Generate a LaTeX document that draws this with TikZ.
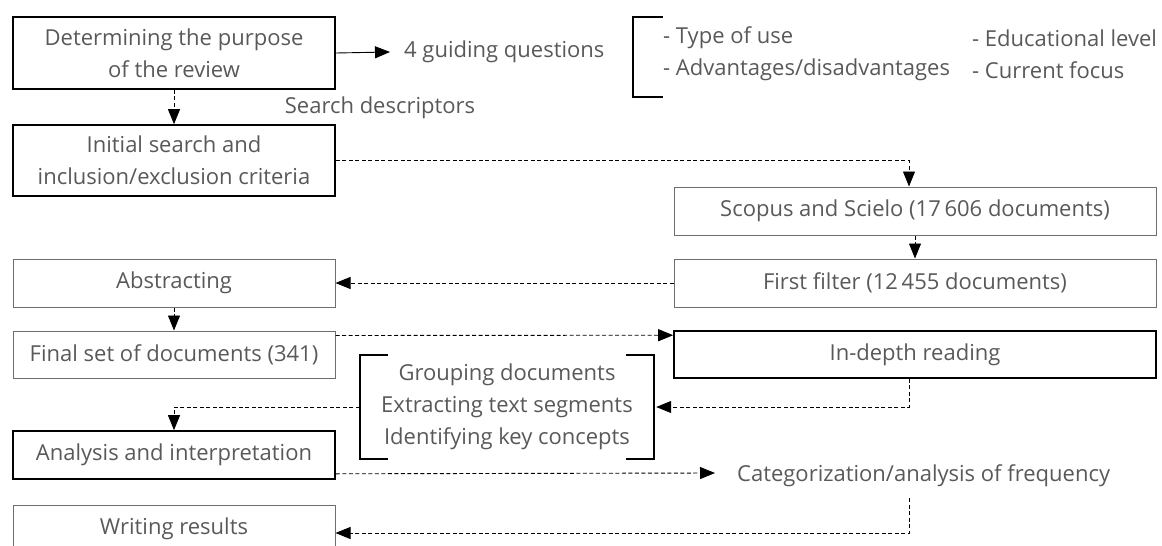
\documentclass[tikz,border=0pt]{standalone}
\usepackage{fontspec}
\setmainfont{Open Sans}
\usetikzlibrary{arrows.meta}
\definecolor{txt}{HTML}{595959}
\definecolor{thinline}{HTML}{6E6E6E}
\tikzset{
  every node/.style={text=txt, font=\fontsize{22}{32}\selectfont},
  mainbox/.style={draw=black, line width=1.6pt, align=center, inner sep=0pt, minimum width=322pt},
  plainbox/.style={draw=thinline, line width=1pt, align=center, inner sep=0pt, minimum width=322pt},
  widebox/.style={minimum width=482pt},
  label/.style={inner sep=0pt, anchor=west},
  flow/.style={-{Triangle[length=15pt,width=12pt]}, line width=0.9pt, dash pattern=on 4pt off 2.5pt},
  solidflow/.style={-{Triangle[length=15pt,width=12pt]}, line width=0.9pt},
  bracket/.style={draw=black, line width=1.6pt},
}
\begin{document}
\begin{tikzpicture}[x=1pt, y=-1pt]
\useasboundingbox (0,0) rectangle (1162,546);
\clip (0,0) rectangle (1162,546);

% left column
\node[mainbox, minimum height=72pt] (b1) at (174,53) {Determining the purpose\\of the review};
\node[mainbox, minimum height=71pt] (b2) at (174,160.5) {Initial search and\\inclusion/exclusion criteria};
\node[plainbox, minimum height=48pt] (abs) at (174,283) {Abstracting};
\node[plainbox, minimum height=47pt] (fin) at (174,354.5) {Final set of documents (341)};
\node[mainbox, minimum height=48pt] (ana) at (174,455) {Analysis and interpretation};
\node[plainbox, minimum height=48pt] (wri) at (174,529) {Writing results};

% right column
\node[plainbox, widebox, minimum height=48pt] (sco) at (915,211) {Scopus and Scielo (17\,606 documents)};
\node[plainbox, widebox, minimum height=48pt] (fil) at (915,283) {First filter (12\,455 documents)};
\node[mainbox, widebox, minimum height=47pt] (ind) at (915,354.5) {In-depth reading};

% guiding questions
\node[label] (gq) at (404,52) {4 guiding questions};
\node[label] (q1) at (663,38) {- Type of use};
\node[label] (q2) at (663,70) {- Advantages/disadvantages};
\node[label] (q3) at (972,38) {- Educational level};
\node[label] (q4) at (972,70) {- Current focus};
\draw[bracket] (663,17) -- (633,17) -- (633,97) -- (663,97);

\node[inner sep=0pt] (sd) at (380,108) {Search descriptors};

% grouping steps
\node[align=center, inner sep=0pt, minimum width=294pt, minimum height=104pt] (grp) at (507,407)
  {Grouping documents\\Extracting text segments\\Identifying key concepts};
\draw[bracket] ([xshift=28pt]grp.north west) -- (grp.north west) -- (grp.south west) -- ([xshift=28pt]grp.south west);
\draw[bracket] ([xshift=-28pt]grp.north east) -- (grp.north east) -- (grp.south east) -- ([xshift=-28pt]grp.south east);

\node[label] (cat) at (737,476) {Categorization/analysis of frequency};
\coordinate (catfoot) at (909,498);

% connectors
\draw[solidflow] (b1.east) -- ([xshift=-14pt]gq.west);
\draw[flow] (b1.south) -- (b2.north);
\draw[flow] (b2.east) -| ([xshift=-6pt]sco.north);
\draw[flow] (sco.south) -- (fil.north);
\draw[flow] (fil.west) -- (abs.east);
\draw[flow] (abs.south) -- (fin.north);
\draw[flow] ([yshift=-5pt]fin.north east) -- ([yshift=-5pt]ind.north west);
\draw[flow] ([xshift=-6pt]ind.south) |- ([xshift=2pt]grp.east);
\draw[flow] (grp.west) -| (ana.north);
\draw[flow] ([yshift=6pt]ana.south east) -- ([xshift=-22pt,yshift=3pt]cat.west);
\draw[flow] (catfoot) |- ([yshift=-4pt]wri.east);
\end{tikzpicture}
\end{document}
